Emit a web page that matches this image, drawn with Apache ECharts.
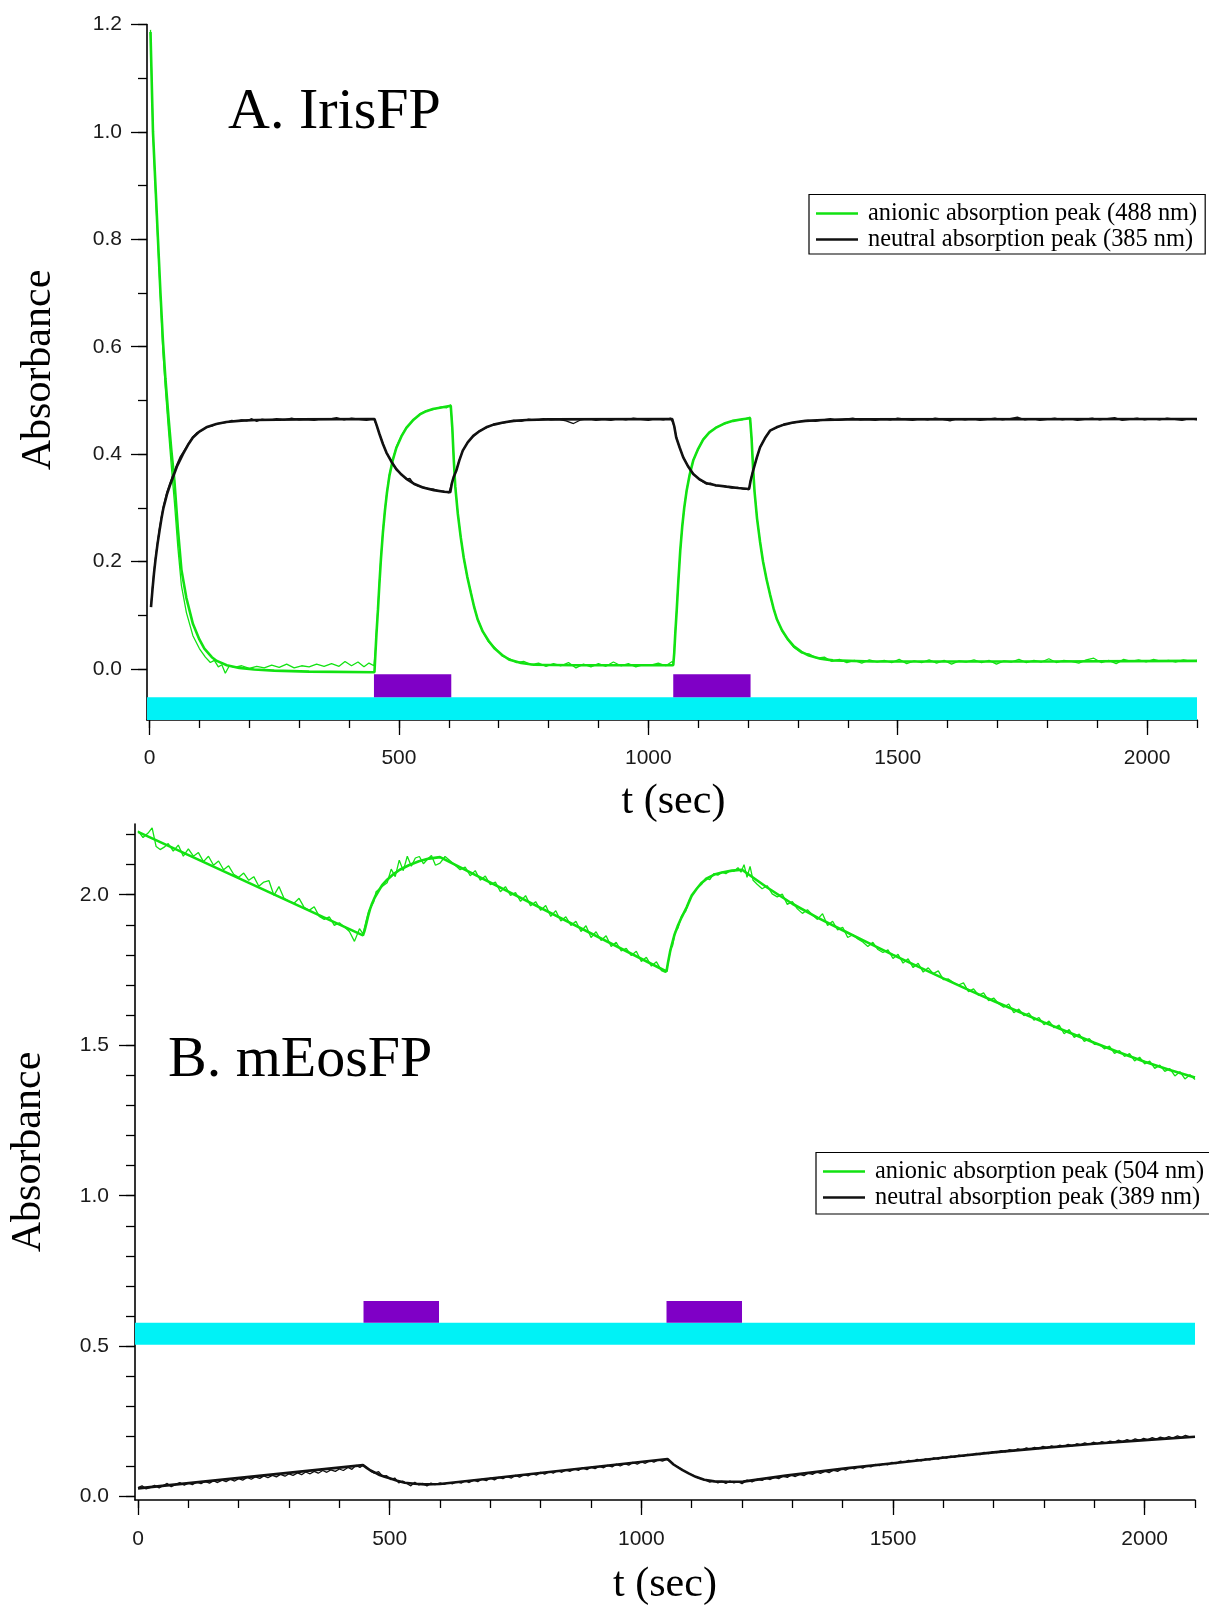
<!DOCTYPE html>
<html>
<head>
<meta charset="utf-8">
<script src="https://cdn.jsdelivr.net/npm/echarts@6.0.0/dist/echarts.min.js"></script>
<style>html,body{margin:0;padding:0;background:#fff}#c{width:1209px;height:1605px}</style>
</head>
<body>
<div id="c"></div>
<script>
// ---------- tick values ----------
const xMajor = [0, 500, 1000, 1500, 2000];
const xMinor = [0, 100, 200, 300, 400, 500, 600, 700, 800, 900, 1000, 1100, 1200, 1300, 1400, 1500, 1600, 1700, 1800, 1900, 2000, 2100];
const yTopMajor = [0, 0.2, 0.4, 0.6, 0.8, 1.0, 1.2];
const yTopMinor = [0, 0.1, 0.2, 0.3, 0.4, 0.5, 0.6, 0.7, 0.8, 0.9, 1.0, 1.1, 1.2];
const yBotMajor = [0, 0.5, 1.0, 1.5, 2.0];
const yBotMinor = [0, 0.1, 0.2, 0.3, 0.4, 0.5, 0.6, 0.7, 0.8, 0.9, 1.0, 1.1, 1.2, 1.3, 1.4, 1.5, 1.6, 1.7, 1.8, 1.9, 2.0, 2.1, 2.2];

// ---------- illumination bands [tStart, tEnd] and absorbance levels ----------
const topCyan = [-5, 2100, -0.095, -0.0525];
const topPurple = [[450, 605], [1050, 1205]];
const topPurpleLevels = [-0.0525, -0.0097];
const botCyan = [-6, 2100, 0.505, 0.578];
const botPurple = [[448, 598], [1050, 1200]];
const botPurpleLevels = [0.578, 0.65];

// ---------- names ----------
const namesA = ['anionic absorption peak (488 nm)', 'neutral absorption peak (385 nm)'];
const namesB = ['anionic absorption peak (504 nm)', 'neutral absorption peak (389 nm)'];

// ---------- A. IrisFP : anionic (green) ----------
const aGreenFit = [[2,1.186],[7,1.0],[12,0.9],[17,0.8],[22,0.7],[27,0.61],[32,0.54],[38,0.47],[44,0.405],[50,0.35],[57,0.26],[64,0.185],[74,0.132],[87,0.084],[100,0.055],[110,0.038],[125,0.022],[135,0.015],[155,0.007],[180,0.002],[210,-0.001],[250,-0.003],[320,-0.005],[451,-0.006],
[453,0.03],[455,0.065],[458,0.11],[461,0.16],[464,0.205],[468,0.255],[472,0.295],[476,0.328],[481,0.36],[488,0.39],[495,0.412],[505,0.433],[515,0.449],[528,0.463],[542,0.474],[555,0.48],[568,0.484],[585,0.487],[604,0.49],
[605,0.49],[607,0.45],[610,0.39],[613,0.34],[618,0.29],[624,0.245],[630,0.207],[637,0.172],[644,0.143],[651,0.115],[658,0.092],[668,0.07],[680,0.052],[692,0.038],[707,0.026],[722,0.017],[745,0.011],[770,0.008],[850,0.007],[1050,0.007],
[1052,0.03],[1054,0.065],[1057,0.11],[1060,0.16],[1064,0.22],[1068,0.265],[1072,0.3],[1077,0.333],[1083,0.362],[1090,0.388],[1100,0.41],[1110,0.427],[1122,0.44],[1137,0.45],[1152,0.457],[1170,0.462],[1188,0.465],[1204,0.467],
[1205,0.467],[1207,0.43],[1210,0.375],[1213,0.33],[1218,0.28],[1224,0.237],[1230,0.2],[1237,0.167],[1244,0.139],[1251,0.113],[1258,0.092],[1268,0.072],[1280,0.055],[1292,0.042],[1307,0.032],[1322,0.025],[1345,0.019],[1370,0.016],[1450,0.014],[1800,0.014],[2100,0.015]];
const aGreenRaw = [[2,1.19],[7,1.0],[12,0.89],[17,0.79],[22,0.69],[27,0.59],[32,0.52],[38,0.445],[44,0.375],[50,0.31],[57,0.225],[64,0.155],[74,0.105],[87,0.062],[100,0.038],[112,0.022],[122,0.012],[130,0.016],[138,0.004],[145,0.008],[152,-0.008],[160,0.006],[170,0.003],[185,0.006],[200,0.001],[215,0.005],[230,0.002],[245,0.007],[260,0.003],[275,0.009],[290,0.002],[305,0.006],[320,0.004],[335,0.009],[350,0.005],[365,0.01],[380,0.005],[392,0.014],[405,0.006],[418,0.013],[430,0.004],[440,0.011],[450,0.006],
[453,0.035],[455,0.07],[458,0.115],[461,0.163],[464,0.208],[468,0.257],[472,0.297],[476,0.33],[481,0.362],[488,0.391],[495,0.414],[505,0.434],[515,0.45],[528,0.462],[542,0.475],[555,0.481],[568,0.483],[585,0.488],[595,0.486],[604,0.492],
[605,0.49],[607,0.45],[610,0.392],[613,0.342],[618,0.292],[624,0.245],[630,0.206],[637,0.171],[644,0.145],[651,0.114],[658,0.093],[668,0.07],[680,0.05],[692,0.04],[707,0.024],[722,0.019],[735,0.012],[750,0.014],[765,0.008],[780,0.011],[795,0.005],[810,0.01],[825,0.006],[840,0.012],[855,0.002],[870,0.009],[885,0.004],[900,0.01],[915,0.005],[930,0.013],[945,0.006],[960,0.01],[975,0.004],[990,0.008],[1005,0.007],[1020,0.011],[1035,0.006],[1048,0.014],[1050,0.01],
[1052,0.035],[1054,0.068],[1057,0.112],[1060,0.162],[1064,0.22],[1068,0.266],[1072,0.3],[1077,0.334],[1083,0.362],[1090,0.389],[1100,0.409],[1110,0.428],[1122,0.44],[1137,0.451],[1152,0.456],[1170,0.463],[1188,0.464],[1204,0.469],
[1205,0.467],[1207,0.43],[1210,0.376],[1213,0.331],[1218,0.281],[1224,0.237],[1230,0.2],[1237,0.168],[1244,0.138],[1251,0.113],[1258,0.092],[1268,0.071],[1280,0.054],[1292,0.04],[1307,0.03],[1322,0.028],[1338,0.02],[1353,0.022],[1368,0.014],[1383,0.018],[1398,0.012],[1413,0.016],[1428,0.011],[1443,0.017],[1458,0.013],[1473,0.016],[1488,0.012],[1503,0.018],[1518,0.01],[1533,0.015],[1548,0.012],[1563,0.017],[1578,0.011],[1593,0.016],[1608,0.009],[1623,0.015],[1638,0.013],[1653,0.017],[1668,0.012],[1683,0.016],[1698,0.009],[1713,0.015],[1728,0.013],[1743,0.018],[1758,0.012],[1773,0.016],[1788,0.013],[1803,0.019],[1818,0.012],[1833,0.016],[1848,0.014],[1863,0.011],[1878,0.017],[1893,0.02],[1908,0.012],[1923,0.016],[1938,0.01],[1953,0.018],[1968,0.014],[1983,0.017],[1998,0.013],[2013,0.018],[2028,0.014],[2043,0.016],[2058,0.013],[2073,0.017],[2088,0.014],[2100,0.016]];

// ---------- A. IrisFP : neutral (black) ----------
const aBlackFit = [[3,0.115],[6,0.148],[9,0.178],[12,0.203],[16,0.232],[20,0.257],[24,0.28],[28,0.3],[35,0.325],[41,0.342],[47,0.357],[55,0.377],[67,0.4],[77,0.417],[87,0.431],[100,0.442],[114,0.45],[134,0.456],[154,0.46],[184,0.4625],[214,0.4636],[300,0.4648],[451,0.4655],
[455,0.455],[461,0.4375],[468,0.419],[475,0.403],[485,0.386],[495,0.372],[505,0.362],[515,0.354],[530,0.345],[548,0.338],[570,0.333],[590,0.33],[603,0.329],
[606,0.345],[610,0.358],[615,0.369],[621,0.388],[628,0.4065],[638,0.422],[649,0.434],[662,0.443],[675,0.45],[690,0.455],[709,0.459],[730,0.462],[756,0.4636],[800,0.4648],[1048,0.4655],
[1052,0.452],[1056,0.431],[1063,0.412],[1070,0.394],[1080,0.377],[1090,0.363],[1103,0.353],[1117,0.3457],[1135,0.342],[1157,0.3395],[1180,0.337],[1202,0.335],
[1205,0.35],[1210,0.369],[1217,0.392],[1224,0.4127],[1234,0.43],[1244,0.4437],[1257,0.45],[1272,0.455],[1290,0.459],[1315,0.462],[1350,0.4636],[1400,0.4648],[2100,0.4655]];
const aBlackRaw = [[3,0.118],[6,0.152],[9,0.182],[12,0.207],[16,0.236],[20,0.262],[24,0.284],[28,0.303],[35,0.33],[41,0.346],[47,0.362],[55,0.381],[62,0.396],[67,0.403],[77,0.418],[87,0.432],[95,0.44],[105,0.444],[115,0.451],[125,0.452],[135,0.457],[145,0.458],[155,0.459],[165,0.463],[175,0.461],[185,0.464],[195,0.462],[205,0.466],[215,0.461],[225,0.465],[240,0.463],[255,0.466],[270,0.464],[285,0.467],[300,0.464],[315,0.465],[330,0.463],[345,0.466],[360,0.465],[375,0.468],[390,0.464],[405,0.467],[420,0.465],[435,0.463],[450,0.466],
[455,0.454],[461,0.438],[468,0.42],[475,0.402],[485,0.388],[495,0.37],[505,0.363],[515,0.353],[522,0.355],[530,0.344],[540,0.34],[548,0.339],[558,0.336],[570,0.335],[580,0.331],[590,0.331],[600,0.328],[603,0.329],
[606,0.346],[610,0.357],[615,0.37],[621,0.389],[628,0.406],[638,0.423],[649,0.433],[662,0.444],[675,0.449],[690,0.456],[709,0.458],[730,0.463],[745,0.461],[760,0.465],[775,0.463],[790,0.466],[805,0.464],[820,0.465],[835,0.462],[850,0.457],[865,0.464],[880,0.466],[895,0.463],[910,0.465],[925,0.463],[940,0.466],[955,0.464],[970,0.467],[985,0.465],[1000,0.463],[1015,0.466],[1030,0.464],[1045,0.467],[1048,0.466],
[1052,0.452],[1056,0.432],[1063,0.411],[1070,0.395],[1080,0.376],[1090,0.364],[1103,0.352],[1117,0.344],[1125,0.346],[1135,0.341],[1145,0.341],[1157,0.339],[1168,0.337],[1180,0.338],[1190,0.335],[1202,0.334],
[1205,0.351],[1210,0.37],[1217,0.391],[1224,0.413],[1234,0.43],[1244,0.444],[1257,0.449],[1272,0.456],[1290,0.458],[1305,0.461],[1320,0.463],[1335,0.461],[1350,0.464],[1365,0.466],[1380,0.463],[1395,0.465],[1410,0.467],[1425,0.464],[1440,0.465],[1455,0.463],[1470,0.466],[1485,0.464],[1500,0.467],[1515,0.465],[1530,0.463],[1545,0.466],[1560,0.464],[1575,0.467],[1590,0.465],[1605,0.462],[1620,0.466],[1635,0.464],[1650,0.466],[1665,0.463],[1680,0.465],[1695,0.467],[1710,0.464],[1725,0.466],[1740,0.469],[1755,0.464],[1770,0.466],[1785,0.463],[1800,0.465],[1815,0.467],[1830,0.464],[1845,0.466],[1860,0.463],[1875,0.465],[1890,0.467],[1905,0.464],[1920,0.466],[1935,0.468],[1950,0.463],[1965,0.465],[1980,0.467],[1995,0.464],[2010,0.466],[2025,0.464],[2040,0.467],[2055,0.465],[2070,0.463],[2085,0.466],[2100,0.464]];

// ---------- B. mEosFP : anionic (green) ----------
const bGreenFit = [[0,2.209],[447,1.865],[450,1.88],[453,1.9],[457,1.928],[461,1.952],[465,1.971],[470,1.99],[477,2.01],[485,2.032],[495,2.05],[505,2.065],[520,2.083],[538,2.098],[558,2.111],[578,2.12],[600,2.125],
[1050,1.745],[1053,1.775],[1057,1.81],[1061,1.837],[1066,1.868],[1072,1.895],[1080,1.925],[1090,1.958],[1100,1.997],[1110,2.02],[1120,2.04],[1132,2.056],[1145,2.067],[1160,2.074],[1180,2.08],[1200,2.083],
[1250,2.024],[1300,1.97],[1350,1.924],[1400,1.882],[1450,1.841],[1500,1.8],[1550,1.761],[1600,1.722],[1650,1.684],[1700,1.647],[1750,1.611],[1800,1.576],[1850,1.542],[1900,1.508],[1950,1.476],[2000,1.445],[2050,1.418],[2100,1.393]];
const bGreenRaw = [[0,2.212],[10,2.19],[20,2.205],[28,2.222],[36,2.16],[44,2.15],[52,2.158],[60,2.17],[70,2.145],[80,2.165],[90,2.128],[100,2.152],[110,2.128],[120,2.14],[130,2.11],[140,2.128],[150,2.098],[160,2.112],[170,2.083],[180,2.096],[190,2.068],[200,2.058],[210,2.072],[220,2.048],[230,2.06],[240,2.028],[250,2.042],[260,2.047],[270,1.998],[280,2.027],[290,1.988],[300,1.978],[310,1.972],[320,1.988],[330,1.958],[340,1.948],[350,1.96],[360,1.928],[370,1.918],[380,1.927],[390,1.898],[400,1.907],[410,1.893],[420,1.878],[430,1.845],[440,1.887],[447,1.87],
[452,1.905],[458,1.945],[463,1.96],[468,1.975],[473,2.01],[480,2.02],[487,2.03],[495,2.04],[503,2.085],[511,2.06],[519,2.115],[527,2.08],[535,2.128],[543,2.095],[551,2.122],[559,2.127],[567,2.103],[575,2.118],[583,2.13],[591,2.098],[600,2.105],
[610,2.127],[620,2.113],[630,2.098],[640,2.083],[650,2.092],[660,2.063],[670,2.08],[680,2.048],[690,2.062],[700,2.033],[710,2.042],[720,2.01],[730,2.027],[740,1.998],[750,2.007],[760,1.978],[770,1.997],[780,1.963],[790,1.977],[800,1.948],[810,1.964],[820,1.928],[830,1.947],[840,1.913],[850,1.927],[860,1.898],[870,1.912],[880,1.878],[890,1.897],[900,1.858],[910,1.877],[920,1.848],[930,1.864],[940,1.828],[950,1.842],[960,1.813],[970,1.822],[980,1.798],[990,1.812],[1000,1.778],[1010,1.792],[1020,1.763],[1030,1.777],[1040,1.748],[1048,1.742],
[1053,1.77],[1058,1.82],[1062,1.83],[1067,1.875],[1073,1.89],[1080,1.93],[1088,1.945],[1096,1.985],[1104,2.005],[1112,2.025],[1120,2.035],[1128,2.055],[1136,2.05],[1144,2.07],[1152,2.065],[1160,2.075],[1168,2.07],[1176,2.08],[1184,2.078],[1192,2.09],[1198,2.075],[1204,2.1],[1210,2.058],[1216,2.094],[1222,2.048],
[1230,2.035],[1240,2.02],[1250,2.03],[1260,2.003],[1270,1.993],[1280,2.002],[1290,1.968],[1300,1.977],[1310,1.953],[1320,1.938],[1330,1.95],[1340,1.933],[1350,1.918],[1360,1.937],[1370,1.898],[1380,1.912],[1390,1.883],[1400,1.892],[1410,1.858],[1420,1.867],[1430,1.853],[1440,1.843],[1450,1.828],[1460,1.842],[1470,1.818],[1480,1.808],[1490,1.817],[1500,1.788],[1510,1.802],[1520,1.773],[1530,1.787],[1540,1.758],[1550,1.772],[1560,1.743],[1570,1.757],[1580,1.738],[1590,1.747],[1600,1.718],[1610,1.72],[1620,1.708],[1630,1.7],[1640,1.707],[1650,1.678],[1660,1.687],[1670,1.666],[1680,1.674],[1690,1.648],[1700,1.657],[1710,1.638],[1720,1.626],[1730,1.637],[1740,1.608],[1750,1.62],[1760,1.598],[1770,1.607],[1780,1.583],[1790,1.592],[1800,1.568],[1810,1.58],[1820,1.558],[1830,1.567],[1840,1.538],[1850,1.552],[1860,1.526],[1870,1.537],[1880,1.513],[1890,1.522],[1900,1.503],[1910,1.502],[1920,1.488],[1930,1.497],[1940,1.473],[1950,1.482],[1960,1.463],[1970,1.472],[1980,1.448],[1990,1.46],[2000,1.438],[2010,1.447],[2020,1.423],[2030,1.434],[2040,1.413],[2050,1.422],[2060,1.398],[2070,1.412],[2080,1.388],[2090,1.402],[2100,1.386]];

// ---------- B. mEosFP : neutral (black) ----------
const bBlackFit = [[0,0.0275],[447,0.105],[455,0.095],[462,0.087],[470,0.0805],[480,0.072],[490,0.066],[500,0.061],[515,0.053],[530,0.0465],[550,0.043],[570,0.041],[600,0.042],
[1052,0.125],[1058,0.116],[1064,0.107],[1071,0.0995],[1082,0.088],[1094,0.0774],[1108,0.066],[1125,0.056],[1145,0.051],[1171,0.0496],[1202,0.05],
[1287,0.07],[1410,0.095],[1500,0.111],[1612,0.132],[1705,0.148],[1805,0.163],[1900,0.176],[2000,0.188],[2100,0.199]];
const bBlackRaw = [[0,0.03],[8,0.036],[16,0.026],[25,0.031],[33,0.038],[42,0.029],[50,0.037],[58,0.044],[66,0.033],[75,0.041],[83,0.047],[92,0.038],[100,0.046],[108,0.04],[117,0.049],[125,0.043],[133,0.051],[142,0.045],[150,0.053],[158,0.047],[167,0.055],[175,0.05],[183,0.058],[192,0.052],[200,0.06],[208,0.055],[217,0.064],[225,0.058],[233,0.066],[242,0.061],[250,0.069],[258,0.063],[267,0.071],[275,0.066],[283,0.074],[292,0.068],[300,0.076],[308,0.071],[317,0.079],[325,0.073],[333,0.082],[342,0.076],[350,0.084],[358,0.078],[367,0.087],[375,0.081],[383,0.089],[392,0.084],[400,0.092],[408,0.087],[417,0.097],[425,0.091],[433,0.104],[441,0.097],[447,0.105],
[455,0.097],[462,0.085],[470,0.078],[478,0.083],[486,0.068],[494,0.07],[502,0.057],[510,0.062],[518,0.046],[526,0.052],[534,0.044],[542,0.036],[550,0.048],[558,0.039],[566,0.044],[574,0.036],[582,0.045],[590,0.04],[600,0.046],
[608,0.041],[616,0.047],[625,0.043],[633,0.05],[642,0.045],[650,0.053],[658,0.047],[667,0.055],[675,0.05],[683,0.058],[692,0.053],[700,0.062],[708,0.056],[717,0.064],[725,0.06],[733,0.067],[742,0.062],[750,0.071],[758,0.065],[767,0.073],[775,0.069],[783,0.077],[792,0.072],[800,0.081],[808,0.075],[817,0.083],[825,0.078],[833,0.087],[842,0.081],[850,0.089],[858,0.084],[867,0.092],[875,0.087],[883,0.096],[892,0.09],[900,0.098],[908,0.093],[917,0.101],[925,0.096],[933,0.104],[942,0.099],[950,0.108],[958,0.102],[967,0.11],[975,0.105],[983,0.114],[992,0.108],[1000,0.116],[1008,0.111],[1017,0.12],[1025,0.115],[1033,0.122],[1042,0.118],[1050,0.124],
[1058,0.117],[1065,0.106],[1072,0.1],[1080,0.09],[1088,0.083],[1096,0.076],[1104,0.07],[1112,0.063],[1120,0.058],[1128,0.055],[1136,0.048],[1144,0.053],[1152,0.046],[1160,0.051],[1168,0.044],[1176,0.052],[1184,0.046],[1192,0.05],[1200,0.043],[1210,0.055],[1220,0.049],[1230,0.058],
[1240,0.054],[1248,0.062],[1256,0.057],[1265,0.064],[1273,0.06],[1281,0.068],[1290,0.064],[1298,0.072],[1306,0.067],[1315,0.074],[1323,0.07],[1331,0.078],[1340,0.074],[1348,0.082],[1356,0.077],[1365,0.085],[1373,0.08],[1381,0.088],[1390,0.084],[1398,0.092],[1406,0.088],[1415,0.097],[1423,0.092],[1431,0.1],[1440,0.095],[1448,0.103],[1456,0.099],[1465,0.107],[1473,0.103],[1481,0.11],[1490,0.106],[1498,0.114],[1506,0.11],[1515,0.118],[1523,0.114],[1531,0.121],[1540,0.117],[1548,0.124],[1556,0.119],[1565,0.126],[1573,0.122],[1581,0.129],[1590,0.125],[1598,0.132],[1606,0.128],[1615,0.135],[1623,0.131],[1631,0.138],[1640,0.134],[1648,0.141],[1656,0.137],[1665,0.144],[1673,0.14],[1681,0.147],[1690,0.143],[1698,0.15],[1706,0.146],[1715,0.153],[1723,0.149],[1731,0.156],[1740,0.152],[1748,0.159],[1756,0.155],[1765,0.162],[1773,0.157],[1781,0.164],[1790,0.16],[1798,0.167],[1806,0.162],[1815,0.169],[1823,0.164],[1831,0.171],[1840,0.167],[1848,0.174],[1856,0.169],[1865,0.176],[1873,0.172],[1881,0.179],[1890,0.174],[1898,0.181],[1906,0.176],[1915,0.183],[1923,0.178],[1931,0.185],[1940,0.181],[1948,0.188],[1956,0.183],[1965,0.19],[1973,0.185],[1981,0.192],[1990,0.187],[1998,0.194],[2006,0.189],[2015,0.196],[2023,0.191],[2031,0.198],[2040,0.194],[2048,0.2],[2056,0.195],[2065,0.202],[2073,0.197],[2081,0.204],[2090,0.199],[2100,0.198]];

// ---------- styling ----------
const GREEN = '#12e212';
const BLACK = '#111111';
const CYAN = '#00f2f6';
const PURPLE = '#7f00c6';
const SERIF = '"Liberation Serif", "DejaVu Serif", serif';
const SANS = '"Liberation Sans", Arial, sans-serif';
const LABEL = {fontFamily: SANS, fontSize: 21, color: '#1a1a1a'};

function xPair(grid, min, max, margin) {
  return [
    {type: 'value', gridIndex: grid, min: min, max: max, position: 'bottom',
     axisLine: {show: true, onZero: false, lineStyle: {color: '#000', width: 1.6}},
     axisTick: {show: true, length: 8, customValues: xMinor, lineStyle: {color: '#000', width: 1.3}},
     axisLabel: {show: false}, splitLine: {show: false}},
    {type: 'value', gridIndex: grid, min: min, max: max, position: 'bottom',
     axisLine: {show: false, onZero: false},
     axisTick: {show: true, length: 15, customValues: xMajor, lineStyle: {color: '#000', width: 1.3}},
     axisLabel: Object.assign({show: true, margin: margin, customValues: xMajor, formatter: v => String(v)}, LABEL),
     splitLine: {show: false}}
  ];
}
function yPair(grid, min, max, minor, major, margin, fmt) {
  return [
    {type: 'value', gridIndex: grid, min: min, max: max, position: 'left',
     axisLine: {show: true, onZero: false, lineStyle: {color: '#000', width: 1.6}},
     axisTick: {show: true, length: 9, customValues: minor, lineStyle: {color: '#000', width: 1.3}},
     axisLabel: {show: false}, splitLine: {show: false}},
    {type: 'value', gridIndex: grid, min: min, max: max, position: 'left',
     axisLine: {show: false, onZero: false},
     axisTick: {show: true, length: 16, customValues: major, lineStyle: {color: '#000', width: 1.3}},
     axisLabel: Object.assign({show: true, margin: margin, customValues: major, formatter: fmt}, LABEL),
     splitLine: {show: false}}
  ];
}

function bands(cyan, purple, levels) {
  const d = [[{xAxis: cyan[0], yAxis: cyan[2], itemStyle: {color: CYAN}}, {xAxis: cyan[1], yAxis: cyan[3]}]];
  purple.forEach(p => d.push([{xAxis: p[0], yAxis: levels[0], itemStyle: {color: PURPLE}}, {xAxis: p[1], yAxis: levels[1]}]));
  return {silent: true, itemStyle: {opacity: 1, borderWidth: 0}, label: {show: false}, emphasis: {disabled: true}, data: d};
}

function line(name, data, color, width, xi, yi, z, extra) {
  return Object.assign({type: 'line', name: name, data: data, xAxisIndex: xi, yAxisIndex: yi,
    showSymbol: false, symbol: 'none', smooth: false, z: z, silent: true,
    lineStyle: {color: color, width: width}, itemStyle: {color: color},
    emphasis: {disabled: true}}, extra || {});
}

function legend(names, left, top, padBottom) {
  return {data: names, orient: 'vertical', left: left, top: top, icon: 'rect', itemWidth: 42, itemHeight: 2.6, itemGap: 0,
    padding: [6, 8, padBottom, 7], borderColor: '#000', borderWidth: 1.2, selectedMode: false,
    textStyle: {fontFamily: SERIF, fontSize: 24.4, color: '#000', lineHeight: 26, padding: [0, 0, 0, 5]}};
}

const chart = echarts.init(document.getElementById('c'), null, {renderer: 'canvas'});
const option = {
  animation: false,
  backgroundColor: '#fff',
  grid: [
    {left: 147, top: 24.5, width: 1050, height: 695.5},
    {left: 135, top: 824, width: 1060, height: 676}
  ],
  xAxis: [].concat(xPair(0, -5, 2100, 28), xPair(1, -6, 2100, 29)),
  yAxis: [].concat(
    yPair(0, -0.095, 1.2, yTopMinor, yTopMajor, 25, v => v.toFixed(1)),
    yPair(1, -0.011, 2.235, yBotMinor, yBotMajor, 26, v => v.toFixed(1))
  ),
  legend: [legend(namesA, 809, 194.5, 1.5), legend(namesB, 816, 1152.5, 3.5)],
  series: [
    line(namesA[0], aGreenFit, GREEN, 2.6, 0, 0, 4),
    line(namesA[1], aBlackFit, BLACK, 2.6, 0, 0, 4, {markArea: bands(topCyan, topPurple, topPurpleLevels)}),
    line(namesA[0], aGreenRaw, GREEN, 1.3, 0, 0, 3),
    line(namesA[1], aBlackRaw, BLACK, 1.3, 0, 0, 3),
    line(namesB[0], bGreenFit, GREEN, 2.6, 2, 2, 4),
    line(namesB[1], bBlackFit, BLACK, 2.6, 2, 2, 4, {markArea: bands(botCyan, botPurple, botPurpleLevels)}),
    line(namesB[0], bGreenRaw, GREEN, 1.3, 2, 2, 3),
    line(namesB[1], bBlackRaw, BLACK, 1.3, 2, 2, 3)
  ],
  graphic: [
    {type: 'text', left: 228, top: 84, style: {text: 'A. IrisFP', fontFamily: SERIF, fontSize: 58, fill: '#000'}},
    {type: 'text', left: 168, top: 1032, style: {text: 'B. mEosFP', fontFamily: SERIF, fontSize: 58, fill: '#000'}},
    {type: 'text', x: 39, y: 370, rotation: Math.PI / 2, style: {text: 'Absorbance', fontFamily: SERIF, fontSize: 42, fill: '#000', align: 'center', verticalAlign: 'middle'}},
    {type: 'text', x: 29, y: 1152, rotation: Math.PI / 2, style: {text: 'Absorbance', fontFamily: SERIF, fontSize: 42, fill: '#000', align: 'center', verticalAlign: 'middle'}},
    {type: 'text', x: 673.5, y: 801.5, style: {text: 't (sec)', fontFamily: SERIF, fontSize: 42, fill: '#000', align: 'center', verticalAlign: 'middle'}},
    {type: 'text', x: 665, y: 1584.5, style: {text: 't (sec)', fontFamily: SERIF, fontSize: 42, fill: '#000', align: 'center', verticalAlign: 'middle'}}
  ]
};
chart.setOption(option);
</script>
</body>
</html>
